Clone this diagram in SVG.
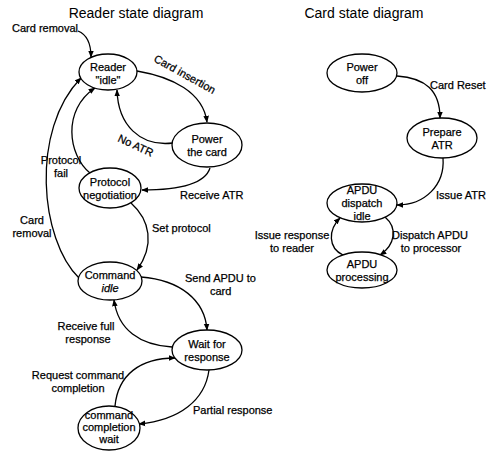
<svg xmlns="http://www.w3.org/2000/svg" width="489" height="452" viewBox="0 0 489 452">
<defs>
<marker id="ah" viewBox="0 0 10 10" refX="9" refY="5" markerWidth="7" markerHeight="7" markerUnits="userSpaceOnUse" orient="auto">
<path d="M0,1 L10,5 L0,9 Z" fill="#000"/>
</marker>
<style>
.n ellipse{fill:#fff;stroke:#000;stroke-width:1.3}
text{font-family:"Liberation Sans",Arial,sans-serif;font-size:11px;fill:#000;stroke:#000;stroke-width:0.25}
.c{text-anchor:middle}
.title{font-size:14px;stroke:none}
#edges path{fill:none;stroke:#000;stroke-width:1.3;marker-end:url(#ah)}
</style>
</defs>
<rect width="489" height="452" fill="#fff"/>
<text class="title c" x="136" y="18">Reader state diagram</text>
<text class="title c" x="364" y="18">Card state diagram</text>

<g id="edges">
<path d="M78,31 C 88,35 91,45 91,57"/>
<path d="M137,71 C 172,77 203,92 207,122"/>
<path d="M173,143 C 140,147 118,125 117,90"/>
<path d="M90,173 C 68,155 62,110 95,88"/>
<path d="M79,278 C 40,240 30,130 81,78"/>
<path d="M210,168 C 205,184 180,190 142,190"/>
<path d="M131,203 C 150,220 155,245 137,270"/>
<path d="M141,277 C 180,280 205,300 207,330"/>
<path d="M172,347 C 140,345 118,330 114,300"/>
<path d="M115,406 C 118,375 140,358 175,358"/>
<path d="M209,370 C 205,400 180,420 139,424"/>
<path d="M397,76 C 425,78 440,90 440,118"/>
<path d="M443,158 C 445,185 425,205 397,205"/>
<path d="M385,217 C 398,228 395,245 380,255"/>
<path d="M343,255 C 328,248 328,230 340,218"/>
</g>

<g id="edge-labels">
<text x="12" y="32">Card removal</text>
<text x="153" y="61" transform="rotate(29 153 61)">Card insertion</text>
<text x="117" y="141" transform="rotate(25 117 141)">No ATR</text>
<text class="c" x="61" y="164">Protocol</text>
<text class="c" x="61" y="177">fail</text>
<text class="c" x="32" y="224">Card</text>
<text class="c" x="32" y="237">removal</text>
<text x="180" y="199">Receive ATR</text>
<text x="152" y="232">Set protocol</text>
<text x="185" y="282">Send APDU to</text>
<text x="210" y="295">card</text>
<text class="c" x="86" y="330">Receive full</text>
<text class="c" x="88" y="343">response</text>
<text class="c" x="78" y="379">Request command</text>
<text class="c" x="78" y="392">completion</text>
<text x="193" y="414">Partial response</text>
<text x="430" y="89">Card Reset</text>
<text x="436" y="199">Issue ATR</text>
<text class="c" x="292" y="239">Issue response</text>
<text class="c" x="292" y="252">to reader</text>
<text class="c" x="430" y="239">Dispatch APDU</text>
<text class="c" x="431" y="252">to processor</text>
</g>

<g id="reader-idle" class="n"><ellipse cx="108" cy="72" rx="29" ry="18"/><text class="c" x="108" y="71">Reader</text><text class="c" x="108" y="84">"idle"</text></g>
<g id="power-card" class="n"><ellipse cx="207" cy="145" rx="35" ry="22"/><text class="c" x="207" y="143">Power</text><text class="c" x="207" y="156">the card</text></g>
<g id="protocol-negotiation" class="n"><ellipse cx="110" cy="188" rx="31" ry="20"/><text class="c" x="110" y="186">Protocol</text><text class="c" x="110" y="199">negotiation</text></g>
<g id="command-idle" class="n"><ellipse cx="110" cy="281" rx="32" ry="19"/><text class="c" x="110" y="279">Command</text><text class="c" x="110" y="292" font-style="italic">idle</text></g>
<g id="wait-response" class="n"><ellipse cx="207" cy="350" rx="35" ry="20"/><text class="c" x="207" y="348">Wait for</text><text class="c" x="207" y="361">response</text></g>
<g id="completion-wait" class="n"><ellipse cx="109" cy="428" rx="31" ry="22"/><text class="c" x="109" y="419">command</text><text class="c" x="109" y="431">completion</text><text class="c" x="109" y="443">wait</text></g>
<g id="power-off" class="n"><ellipse cx="362" cy="73" rx="35" ry="19"/><text class="c" x="362" y="71">Power</text><text class="c" x="362" y="84">off</text></g>
<g id="prepare-atr" class="n"><ellipse cx="442" cy="138" rx="35" ry="20"/><text class="c" x="442" y="136">Prepare</text><text class="c" x="442" y="149">ATR</text></g>
<g id="apdu-dispatch" class="n"><ellipse cx="362" cy="203" rx="35" ry="19"/><text class="c" x="362" y="194">APDU</text><text class="c" x="362" y="207">dispatch</text><text class="c" x="362" y="220">idle</text></g>
<g id="apdu-processing" class="n"><ellipse cx="362" cy="270" rx="35" ry="18"/><text class="c" x="362" y="268">APDU</text><text class="c" x="362" y="281">processing</text></g>
</svg>
